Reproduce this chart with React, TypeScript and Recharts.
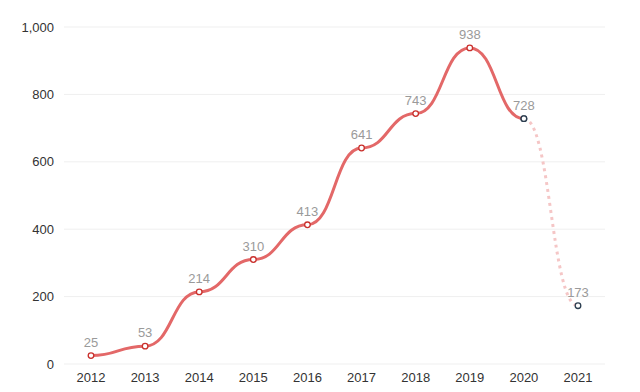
import React from "react";
import { LineChart, Line, XAxis, YAxis, CartesianGrid, LabelList } from "recharts";

const years = ["2012", "2013", "2014", "2015", "2016", "2017", "2018", "2019", "2020", "2021"];
const actualValues: (number | null)[] = [25, 53, 214, 310, 413, 641, 743, 938, 728, null];
const forecastValues: (number | null)[] = [null, null, null, null, null, null, null, null, 728, 173];
const highlightYears = ["2020", "2021"];
const yTicks = [0, 200, 400, 600, 800, 1000];

const data = years.map((y, i) => ({
  year: y,
  actual: actualValues[i],
  forecast: forecastValues[i],
  label: actualValues[i] ?? forecastValues[i],
}));

const FONT = "Helvetica, Arial, 'Liberation Sans', sans-serif";

const renderDot = (props: any) => {
  const { cx, cy, payload, index, value } = props;
  if (value == null || cx == null || cy == null) return <g key={`d${index}`} />;
  const hl = highlightYears.includes(payload.year);
  return (
    <circle
      key={`d${index}`}
      cx={cx}
      cy={cy}
      r={2.8}
      fill="#ffffff"
      stroke={hl ? "#2c3e50" : "#c9302c"}
      strokeWidth={1.3}
    />
  );
};

const renderLabel = (props: any) => {
  const { x, y, value, index } = props;
  if (value == null) return null;
  return (
    <text
      key={`l${index}`}
      x={x}
      y={y - 9}
      textAnchor="middle"
      fill="#9a9a9a"
      fontSize={13}
      fontFamily={FONT}
    >
      {value}
    </text>
  );
};

export default function App() {
  return (
    <div style={{ position: "absolute", left: 0, top: 0 }}>
      <LineChart
        width={640}
        height={392}
        data={data}
        margin={{ top: 27, right: 35, bottom: 4, left: 0 }}
      >
        <CartesianGrid vertical={false} stroke="#efefef" />
        <XAxis
          dataKey="year"
          axisLine={false}
          tickLine={false}
          padding={{ left: 27, right: 27 }}
          height={24}
          tickSize={0}
          tickMargin={9}
          tick={{ fill: "#333333", fontSize: 13, fontFamily: FONT }}
          interval={0}
        />
        <YAxis
          domain={[0, 1000]}
          ticks={yTicks}
          width={64}
          axisLine={false}
          tickLine={false}
          tickSize={0}
          tickMargin={10}
          tickFormatter={(v: number) => v.toLocaleString("en-US")}
          tick={{ fill: "#333333", fontSize: 13, fontFamily: FONT }}
        />
        <Line
          type="bumpX"
          dataKey="forecast"
          stroke="#f5c6c6"
          strokeWidth={3}
          strokeDasharray="3 4"
          dot={renderDot}
          activeDot={false}
          isAnimationActive={false}
          connectNulls={false}
        >
          <LabelList dataKey="forecast" content={(p: any) => (p.index === 9 ? renderLabel(p) : null)} />
        </Line>
        <Line
          type="bumpX"
          dataKey="actual"
          stroke="#e36868"
          strokeWidth={3}
          dot={renderDot}
          activeDot={false}
          isAnimationActive={false}
          connectNulls={false}
        >
          <LabelList dataKey="actual" content={renderLabel} />
        </Line>
      </LineChart>
    </div>
  );
}
